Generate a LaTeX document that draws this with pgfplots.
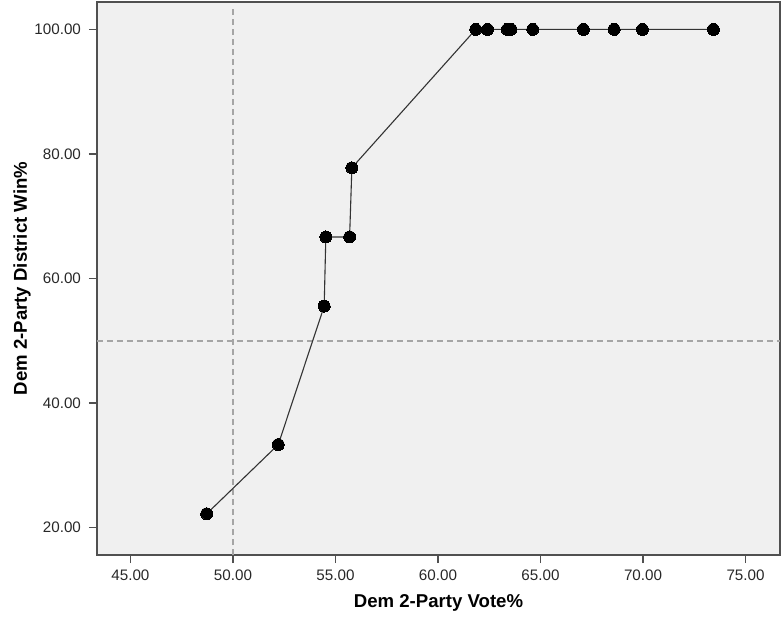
\documentclass[border=0pt]{standalone}
\usepackage{fontspec}
\setmainfont{Liberation Sans}
\usepackage{pgfplots}
\pgfplotsset{compat=1.18}

\definecolor{plotbg}{RGB}{240,240,240}
\definecolor{axisgray}{RGB}{80,80,80}
\definecolor{refgray}{RGB}{165,165,165}
\definecolor{ticktext}{RGB}{40,40,40}

\begin{document}
\begin{tikzpicture}
\begin{axis}[
  scale only axis,
  width=341.5pt, height=276.5pt,
  xmin=43.37, xmax=76.68,
  ymin=15.6, ymax=104.4,
  xtick={45,50,...,75},
  ytick={20,40,...,100},
  tick pos=left,
  tick align=outside,
  major tick length=4pt,
  axis line style={axisgray, line width=0.8pt},
  every tick/.style={axisgray, line width=0.8pt},
  axis background/.style={fill=plotbg},
  /pgf/number format/assume math mode=true,
  /pgf/number format/.cd, fixed, fixed zerofill, precision=2,
  /pgfplots/.cd,
  tick label style={font=\fontsize{7.6}{9}\selectfont, text=ticktext},
  xticklabel style={yshift=0pt},
  yticklabel style={xshift=-0.5pt},
  xlabel={Dem 2-Party Vote\%},
  ylabel={Dem 2-Party District Win\%},
  label style={font=\bfseries\fontsize{9.3}{11}\selectfont},
  xlabel style={at={(axis description cs:0.5,-0.0868)}, anchor=center},
  ylabel style={at={(axis description cs:-0.1098,0.5)}, anchor=center, rotate=0},
  clip=false,
]
% reference lines at the 50% marks
\addplot[refgray, line width=0.75pt, dash pattern=on 3pt off 2pt]
  coordinates {(50,15.6) (50,103.5)};
\addplot[refgray, line width=0.75pt, dash pattern=on 3pt off 2pt]
  coordinates {(43.37,50) (76.68,50)};
% seats-votes curve
\addplot[black!80, line width=0.55pt, mark=*, mark size=3pt,
  mark options={fill=black, draw=black, line width=0pt}]
  coordinates {
    (48.72,22.22)
    (52.21,33.33)
    (54.45,55.56)
    (54.53,66.67)
    (55.69,66.67)
    (55.80,77.78)
    (61.84,100)
    (62.42,100)
    (63.38,100)
    (63.56,100)
    (64.62,100)
    (67.09,100)
    (68.59,100)
    (69.97,100)
    (73.43,100)
  };
\end{axis}
\pgfresetboundingbox
\path[use as bounding box]
  ([shift={(-48.5pt,-33pt)}]current axis.south west)
  rectangle ([shift={(1pt,1pt)}]current axis.north east);
\end{tikzpicture}
\end{document}
